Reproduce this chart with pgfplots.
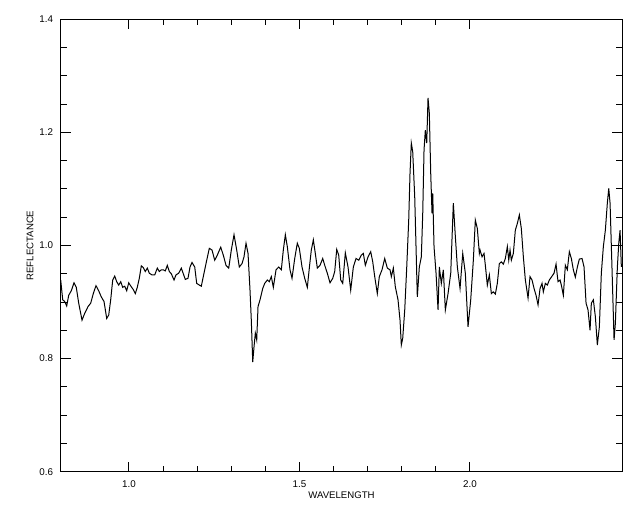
\documentclass[border=0pt]{standalone}
\usepackage{fontspec}
\setmainfont{Liberation Sans}
\usepackage{pgfplots}
\pgfplotsset{compat=1.18}
\usepackage{pgfplotstable}
\pgfplotstableread{
x y
0.8000 0.939
0.8059 0.904
0.8117 0.901
0.8176 0.893
0.8235 0.912
0.8311 0.920
0.8390 0.934
0.8457 0.926
0.8528 0.898
0.8625 0.868
0.8704 0.880
0.8801 0.892
0.8880 0.898
0.8956 0.915
0.9035 0.929
0.9114 0.920
0.9191 0.909
0.9270 0.901
0.9349 0.871
0.9408 0.877
0.9466 0.904
0.9525 0.939
0.9584 0.946
0.9642 0.936
0.9701 0.930
0.9760 0.936
0.9818 0.926
0.9877 0.928
0.9935 0.920
0.9994 0.934
1.0070 0.927
1.0129 0.922
1.0188 0.915
1.0246 0.926
1.0305 0.942
1.0364 0.964
1.0422 0.961
1.0481 0.954
1.0540 0.960
1.0598 0.951
1.0677 0.948
1.0757 0.948
1.0833 0.960
1.0891 0.954
1.0950 0.957
1.1009 0.957
1.1067 0.955
1.1126 0.965
1.1185 0.954
1.1243 0.950
1.1323 0.939
1.1381 0.948
1.1460 0.951
1.1537 0.960
1.1595 0.950
1.1654 0.940
1.1733 0.942
1.1792 0.962
1.1850 0.970
1.1930 0.962
1.1988 0.933
1.2065 0.930
1.2123 0.928
1.2202 0.951
1.2282 0.974
1.2358 0.995
1.2437 0.992
1.2516 0.974
1.2592 0.983
1.2692 0.997
1.2768 0.983
1.2847 0.965
1.2927 0.960
1.3003 0.992
1.3082 1.019
1.3161 0.992
1.3237 0.962
1.3317 0.968
1.3375 0.980
1.3434 1.004
1.3493 0.986
1.3551 0.921
1.3589 0.868
1.3631 0.794
1.3669 0.821
1.3707 0.845
1.3748 0.833
1.3786 0.892
1.3845 0.904
1.3924 0.924
1.3982 0.933
1.4059 0.939
1.4117 0.936
1.4176 0.945
1.4235 0.926
1.4314 0.957
1.4393 0.962
1.4469 0.957
1.4528 0.992
1.4587 1.019
1.4645 0.998
1.4724 0.957
1.4783 0.942
1.4862 0.977
1.4938 1.004
1.4997 0.995
1.5076 0.962
1.5155 0.942
1.5232 0.926
1.5290 0.960
1.5349 0.992
1.5408 1.010
1.5466 0.986
1.5525 0.960
1.5604 0.965
1.5683 0.977
1.5742 0.965
1.5818 0.951
1.5897 0.934
1.5977 0.942
1.6035 0.954
1.6094 0.993
1.6152 0.983
1.6211 0.939
1.6270 0.933
1.6346 0.987
1.6425 0.962
1.6504 0.921
1.6581 0.962
1.6660 0.977
1.6739 0.974
1.6815 0.983
1.6874 0.986
1.6933 0.965
1.7012 0.980
1.7091 0.989
1.7150 0.971
1.7208 0.945
1.7284 0.915
1.7343 0.945
1.7422 0.957
1.7501 0.977
1.7578 0.960
1.7657 0.957
1.7695 0.945
1.7754 0.960
1.7812 0.927
1.7891 0.904
1.7950 0.868
1.7988 0.824
1.8029 0.836
1.8088 0.886
1.8147 0.962
1.8205 1.045
1.8243 1.128
1.8281 1.181
1.8322 1.166
1.8381 1.086
1.8419 0.998
1.8457 0.909
1.8516 0.962
1.8575 0.980
1.8616 1.057
1.8654 1.169
1.8692 1.204
1.8733 1.181
1.8771 1.261
1.8809 1.234
1.8850 1.128
1.8888 1.057
1.8909 1.092
1.8947 0.998
1.9006 0.951
1.9065 0.886
1.9103 0.962
1.9161 0.933
1.9220 0.957
1.9279 0.886
1.9358 0.915
1.9437 0.951
1.9513 1.075
1.9572 1.016
1.9631 0.962
1.9710 0.924
1.9789 0.986
1.9865 0.951
1.9944 0.856
2.0023 0.904
2.0100 0.974
2.0158 1.045
2.0217 1.030
2.0276 0.986
2.0296 0.992
2.0355 0.980
2.0413 0.986
2.0452 0.965
2.0510 0.930
2.0569 0.948
2.0628 0.915
2.0686 0.918
2.0745 0.914
2.0803 0.933
2.0862 0.968
2.0921 0.971
2.0979 0.967
2.1038 0.977
2.1097 0.998
2.1138 0.974
2.1176 0.992
2.1214 0.974
2.1273 0.986
2.1331 1.027
2.1390 1.039
2.1449 1.054
2.1507 1.030
2.1566 0.980
2.1625 0.939
2.1704 0.907
2.1762 0.945
2.1821 0.939
2.1880 0.924
2.1938 0.912
2.1997 0.895
2.2056 0.924
2.2114 0.933
2.2152 0.918
2.2211 0.933
2.2270 0.930
2.2328 0.939
2.2387 0.944
2.2466 0.951
2.2525 0.967
2.2583 0.936
2.2642 0.939
2.2680 0.930
2.2739 0.912
2.2798 0.965
2.2856 0.957
2.2915 0.989
2.2974 0.977
2.3032 0.957
2.3091 0.944
2.3150 0.962
2.3208 0.976
2.3287 0.977
2.3346 0.962
2.3405 0.898
2.3463 0.886
2.3522 0.850
2.3560 0.898
2.3619 0.904
2.3678 0.874
2.3736 0.824
2.3795 0.856
2.3853 0.951
2.3912 0.998
2.3971 1.027
2.4029 1.075
2.4070 1.101
2.4109 1.075
2.4167 0.957
2.4226 0.833
2.4264 0.862
2.4323 0.962
2.4364 1.004
2.4402 1.027
2.4440 0.962
}\spectrum
\begin{document}
\begin{tikzpicture}
\path[use as bounding box] (-30.35pt,-20.15pt) rectangle (289.65pt,235.85pt);
\begin{axis}[
  at={(0,0)}, anchor=south west,
  scale only axis, width=280.8pt, height=226.2pt,
  xmin=0.8, xmax=2.4468, ymin=0.6, ymax=1.4,
  xtick={1.0,1.5,2.0}, minor x tick num=4,
  ytick={0.6,0.8,1.0,1.2,1.4}, minor y tick num=3,
  xticklabels={1.0,1.5,2.0},
  yticklabels={0.6,0.8,1.0,1.2,1.4},
  tick align=inside,
  major tick length=5pt, minor tick length=3pt,
  every tick/.style={black, line width=0.5pt},
  axis line style={line width=0.6pt},
  tick label style={font=\fontsize{4.9}{5.5}\selectfont},
  xticklabel style={yshift=-1pt},
  yticklabel style={xshift=-0.3pt},
  label style={font=\fontsize{4.8}{5.5}\selectfont},
  xlabel={WAVELENGTH},
  ylabel={REFLECTANCE},
  xlabel style={at={(axis description cs:0.5,-0.0515)}, anchor=center},
  ylabel style={at={(axis description cs:-0.0547,0.5)}, anchor=center},
  /pgf/number format/assume math mode=true,
]
\addplot[black, line width=0.5pt, mark=none] table[x=x,y=y] {\spectrum};
\end{axis}
\end{tikzpicture}
\end{document}
